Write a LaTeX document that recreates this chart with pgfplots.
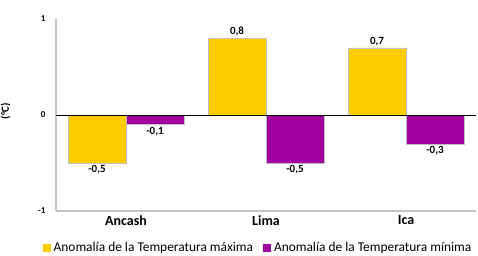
\documentclass[border=0pt]{standalone}
\usepackage{pgfplots}
\pgfplotsset{compat=1.18}
\usepackage{fontspec}
\setmainfont{Carlito}
\definecolor{yel}{RGB}{255,204,0}
\definecolor{pur}{RGB}{160,0,160}
\begin{document}
\begin{tikzpicture}
\path[use as bounding box] (0pt,0pt) rectangle (478pt,255pt);
\begin{axis}[
  at={(56pt,44pt)}, anchor=south west,
  scale only axis, width=420pt, height=192pt,
  xmin=-0.5, xmax=2.5, ymin=-1, ymax=1,
  ybar=0pt, bar width=58pt,
  axis lines*=left,
  axis line style={gray!45, line width=2.5pt},
  xtick={0,1,2}, xticklabels={Ancash,Lima,Ica},
  ytick={-1,0,1}, yticklabels={-1,0,1},
  major tick length=0pt,
  xticklabel style={font=\fontsize{14}{15}\selectfont\bfseries, yshift=-1pt},
  yticklabel style={font=\fontsize{9}{10}\selectfont\bfseries, xshift=-7pt},
  ylabel={(°C)}, ylabel style={font=\fontsize{11}{12}\selectfont\bfseries, at={(axis description cs:-0.1,0.52)}},
  nodes near coords,
  nodes near coords style={font=\fontsize{11}{12}\selectfont\bfseries, inner sep=2pt, /pgf/number format/.cd, use comma, fixed, fixed zerofill, precision=1, assume math mode=true},
  legend style={draw=none, fill=none, at={(0.481,-0.193)}, anchor=center, font=\fontsize{13.4}{14}\selectfont, legend columns=2, /tikz/every even column/.append style={column sep=8pt}, inner sep=0pt, /tikz/every odd column/.append style={column sep=1pt}},
  legend image code/.code={\fill[#1,draw=none] (0pt,-4pt) rectangle (8pt,4pt);},
  clip=false,
]
\addplot[fill=yel, draw=gray!50] coordinates {(0,-0.5) (1,0.8) (2,0.7)};
\addplot[fill=pur, draw=gray!50] coordinates {(0,-0.1) (1,-0.5) (2,-0.3)};
\legend{Anomalía de la Temperatura máxima, Anomalía de la Temperatura mínima}
\draw[black, line width=0.8pt] (axis cs:-0.5,0) -- (axis cs:2.5,0);
\end{axis}
\end{tikzpicture}
\end{document}
